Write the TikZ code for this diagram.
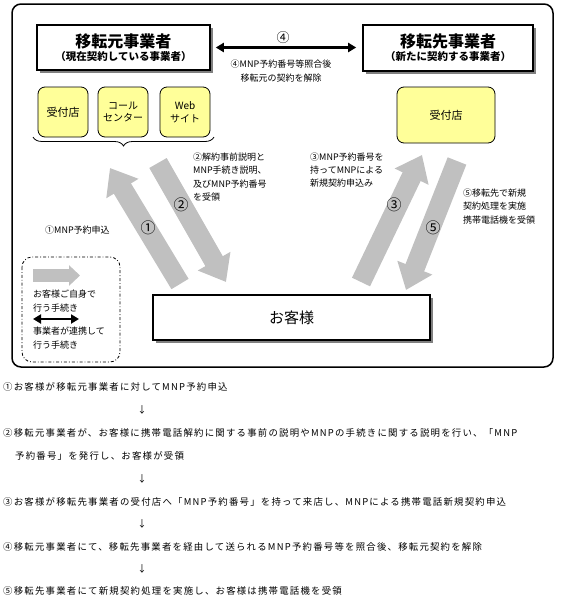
\documentclass[tikz,border=0pt]{standalone}
\usepackage{fontspec}
\newfontfamily\jp{Noto Sans CJK JP}
\newfontfamily\jpsp[LetterSpace=13]{Noto Sans CJK JP}
\usetikzlibrary{arrows.meta,shadows,decorations.pathreplacing}
\definecolor{argray}{RGB}{192,192,192}
\definecolor{boxyellow}{RGB}{255,255,153}
\definecolor{shadowgray}{RGB}{128,128,128}
\begin{document}
\begin{tikzpicture}[x=1pt,y=-1pt,
  titlebox/.style={draw, line width=1.6pt, fill=white, inner sep=0pt, align=center, font=\jp,
    drop shadow={shadow xshift=3pt, shadow yshift=-3pt, fill=shadowgray, opacity=1}},
  ybox/.style={draw, line width=0.8pt, fill=boxyellow, rounded corners=7pt, inner sep=0pt,
    align=center, font=\jp\fontsize{10}{12.5}\selectfont},
  fatarrow/.style={draw=argray, line width=20pt, -{Triangle[width=36pt,length=24pt]}},
  legarrow/.style={draw=argray, line width=13pt, -{Triangle[width=20pt,length=11pt]}},
  biarrow/.style={line width=2.2pt, {Triangle[width=9pt,length=8pt]}-{Triangle[width=9pt,length=8pt]}},
  small/.style={font=\jp\fontsize{9}{13.3}\selectfont, inner sep=0pt, align=left},
  num/.style={font=\jp\fontsize{15}{15}\selectfont, inner sep=0pt},
  body/.style={font=\jpsp\fontsize{9.4}{12}\selectfont, inner sep=0pt, anchor=west},
]
\useasboundingbox (0,0) rectangle (560,600);
\fill[white] (0,0) rectangle (560,600);

% outer frame
\draw[line width=1.5pt, rounded corners=9pt] (12,4) rectangle (553,367);

% fat grey arrows
\coordinate (a1t) at (180,284); \coordinate (a1h) at (110,168);
\coordinate (a2t) at (158,163); \coordinate (a2h) at (226,282);
\coordinate (a3t) at (361,282); \coordinate (a3h) at (422,155);
\coordinate (a5t) at (457,161); \coordinate (a5h) at (406,290);
\draw[fatarrow] (a1t) -- (a1h);
\draw[fatarrow] (a2t) -- (a2h);
\draw[fatarrow] (a3t) -- (a3h);
\draw[fatarrow] (a5t) -- (a5h);
\node[num] (n1) at (148,228) {①};
\node[num] (n2) at (181,205) {②};
\node[num] (n3) at (394,205) {③};
\node[num] (n5) at (433,228) {⑤};

% title boxes
\node[titlebox, minimum width=173pt, minimum height=45pt] (moto) at (123.5,47.5)
  {{\fontsize{16}{19}\selectfont\bfseries 移転元事業者}\\[1pt]{\fontsize{10.5}{13}\selectfont\bfseries （現在契約している事業者）}};
\node[titlebox, minimum width=170pt, minimum height=46pt] (saki) at (448,48)
  {{\fontsize{16}{19}\selectfont\bfseries 移転先事業者}\\[1pt]{\fontsize{10.5}{13}\selectfont\bfseries （新たに契約する事業者）}};

% arrow 4
\draw[biarrow, shorten <=5pt, shorten >=6pt] (moto.east) -- (moto.east -| saki.west);
\node[num, font=\jp\fontsize{13}{13}\selectfont] (n4) at (283,38) {④};
\node[small, align=center] (t4) at (281,71) {④MNP予約番号等照合後\\移転元の契約を解除};

% yellow boxes
\node[ybox, minimum width=50pt, minimum height=50pt, font=\jp\fontsize{11}{13}\selectfont] (uke1) at (63,112) {受付店};
\node[ybox, minimum width=50pt, minimum height=50pt] (call) at (123,112) {コール\\センター};
\node[ybox, minimum width=50pt, minimum height=50pt] (web) at (185,112) {Web\\サイト};
\node[ybox, minimum width=98pt, minimum height=56pt, font=\jp\fontsize{11}{13}\selectfont] (uke2) at (446,115) {受付店};

% brace
\draw[line width=0.8pt, decorate, decoration={brace, amplitude=9pt, mirror}] (33,137) -- (214,137);

% customer box
\node[titlebox, minimum width=277pt, minimum height=45pt, font=\jp\fontsize{15}{18}\selectfont] (kyaku) at (291.5,317.5) {お客様};

% labels
\node[small, anchor=west] (t1) at (45,230) {①MNP予約申込};
\node[small, anchor=west] (t2) at (193,177) {②解約事前説明と\\MNP手続き説明、\\及びMNP予約番号\\を受領};
\node[small, anchor=west] (t3) at (310,170) {③MNP予約番号を\\持ってMNPによる\\新規契約申込み};
\node[small, anchor=west] (t5) at (463,206.5) {⑤移転先で新規\\契約処理を実施\\携帯電話機を受領};

% legend
\draw[line width=0.8pt, dashdotted, rounded corners=10pt] (22,257) rectangle (120,362);
\coordinate (lgt) at (33,275.5); \coordinate (lgh) at (80,275.5);
\draw[legarrow] (lgt) -- (lgh);
\node[small, anchor=west] (lg1) at (33,301) {お客様ご自身で\\行う手続き};
\coordinate (lb1) at (33,319); \coordinate (lb2) at (79,319);
\draw[biarrow] (lb1) -- (lb2);
\node[small, anchor=west] (lg2) at (33,338) {事業者が連携して\\行う手続き};

% bottom text
\node[body] (l1) at (3,387) {①お客様が移転元事業者に対してMNP予約申込};
\node[body, anchor=center] (d1) at (142,410) {↓};
\node[body] (l2) at (3,433) {②移転元事業者が、お客様に携帯電話解約に関する事前の説明やMNPの手続きに関する説明を行い、「MNP};
\node[body] (l2b) at (15,456) {予約番号」を発行し、お客様が受領};
\node[body, anchor=center] (d2) at (142,479) {↓};
\node[body] (l3) at (3,502) {③お客様が移転先事業者の受付店へ「MNP予約番号」を持って来店し、MNPによる携帯電話新規契約申込};
\node[body, anchor=center] (d3) at (142,524) {↓};
\node[body] (l4) at (3,547) {④移転元事業者にて、移転先事業者を経由して送られるMNP予約番号等を照合後、移転元契約を解除};
\node[body, anchor=center] (d4) at (142,569) {↓};
\node[body] (l5) at (3,591) {⑤移転先事業者にて新規契約処理を実施し、お客様は携帯電話機を受領};
\end{tikzpicture}
\end{document}
